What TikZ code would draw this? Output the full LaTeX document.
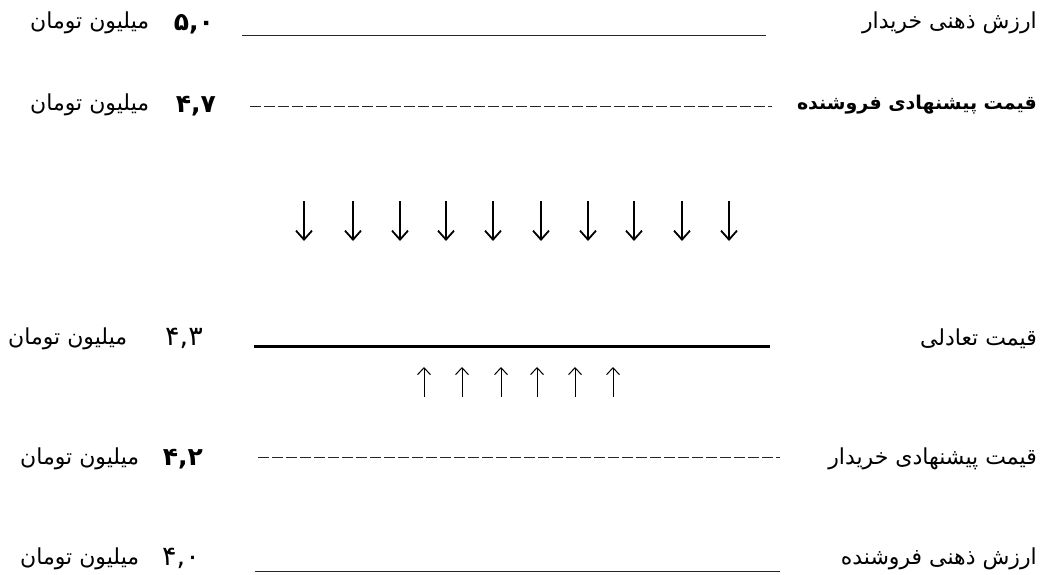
\documentclass[tikz,border=0pt]{standalone}
\usepackage{fontspec}
\usetikzlibrary{arrows.meta}
\TeXXeTstate=1
\newfontfamily\arabicfont[Script=Arabic]{DejaVu Sans}
\begin{document}
\begin{tikzpicture}[x=1pt,y=-1pt,
  lbl/.style={font=\arabicfont\fontsize{22}{24}\selectfont, inner sep=0pt},
  blbl/.style={font=\arabicfont\bfseries\fontsize{19}{22}\selectfont, inner sep=0pt},
  num/.style={font=\arabicfont\fontsize{27}{30}\selectfont, inner sep=0pt},
  bnum/.style={font=\arabicfont\bfseries\fontsize{25}{28}\selectfont, inner sep=0pt},
  thinline/.style={line width=1pt, black!85},
  dashline/.style={line width=1pt, black!85, dash pattern=on 11pt off 3pt},
  eqline/.style={line width=3pt},
  downarrow/.style={line width=1.8pt, -{Straight Barb[length=9pt,width=16pt,line width=1.8pt]}},
  uparrow/.style={line width=1pt, -{Straight Barb[length=7pt,width=13pt,line width=1pt]}}]
\useasboundingbox (0,0) rectangle (1046,575);
\fill[white] (0,0) rectangle (1046,575);

% row 1
\node[lbl, anchor=east] (r1) at (1037,23) {\beginR ارزش ذهنی خریدار\endR};
\node[bnum, anchor=east] (n1) at (214,24) {۵,۰};
\node[lbl, anchor=west] (u1) at (30,23) {\beginR میلیون تومان\endR};
\coordinate (l1a) at (242,36); \coordinate (l1b) at (766,36);
\draw[thinline] (l1a) -- (l1b);

% row 2
\node[blbl, anchor=east] (r2) at (1037,105) {\beginR قیمت پیشنهادی فروشنده\endR};
\node[bnum, anchor=east] (n2) at (216,106) {۴,۷};
\node[lbl, anchor=west] (u2) at (30,105) {\beginR میلیون تومان\endR};
\coordinate (l2a) at (250,107); \coordinate (l2b) at (772,107);
\draw[dashline] (l2a) -- (l2b);

% down arrows
\foreach \x [count=\i] in {304,353,400,446,493,541,588,634,682,729}{
  \coordinate (ds\i) at (\x,201);
  \coordinate (de\i) at (\x,241);
  \draw[downarrow] (ds\i) -- (de\i);
}

% row 3
\node[lbl, anchor=east] (r3) at (1037,339) {\beginR قیمت تعادلی\endR};
\node[num, anchor=east] (n3) at (203,338) {۴,۳};
\node[lbl, anchor=west] (u3) at (8,339) {\beginR میلیون تومان\endR};
\coordinate (l3a) at (254,346); \coordinate (l3b) at (770,346);
\draw[eqline] (l3a) -- (l3b);

% up arrows
\foreach \x [count=\i] in {424,462,501,537,575,613}{
  \coordinate (us\i) at (\x,397);
  \coordinate (ue\i) at (\x,367);
  \draw[uparrow] (us\i) -- (ue\i);
}

% row 4
\node[lbl, anchor=east] (r4) at (1037,459) {\beginR قیمت پیشنهادی خریدار\endR};
\node[bnum, anchor=east] (n4) at (203,459) {۴,۲};
\node[lbl, anchor=west] (u4) at (20,459) {\beginR میلیون تومان\endR};
\coordinate (l4a) at (258,457); \coordinate (l4b) at (780,457);
\draw[dashline] (l4a) -- (l4b);

% row 5
\node[lbl, anchor=east] (r5) at (1037,559) {\beginR ارزش ذهنی فروشنده\endR};
\node[num, anchor=east] (n5) at (200,558) {۴,۰};
\node[lbl, anchor=west] (u5) at (20,559) {\beginR میلیون تومان\endR};
\coordinate (l5a) at (255,571); \coordinate (l5b) at (780,571);
\draw[thinline] (l5a) -- (l5b);
\end{tikzpicture}
\end{document}
